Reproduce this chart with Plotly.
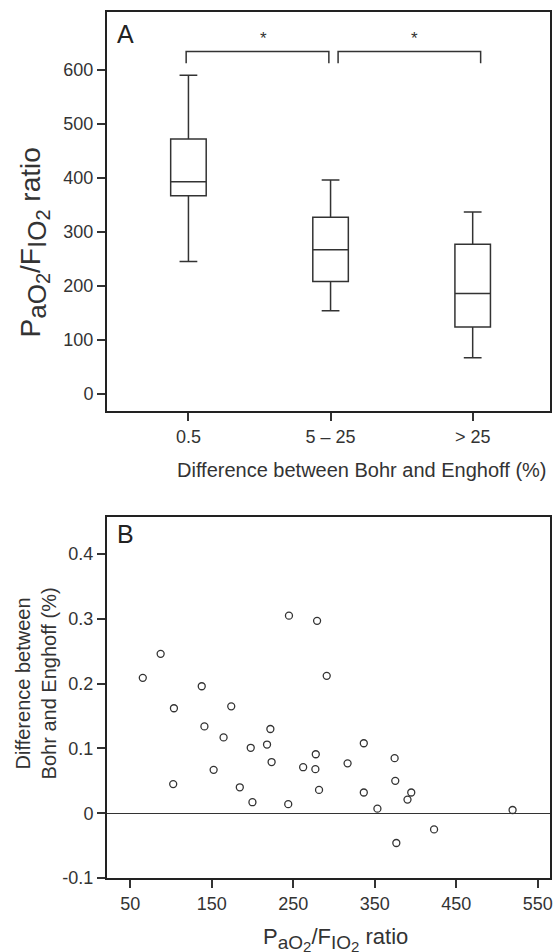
import plotly.graph_objects as go

# ---------- Panel A data (box statistics) ----------
groups = ["0.5", "5 – 25", "> 25"]
lower_fence = [245, 154, 67]
q1_vals = [367, 208, 124]
median_vals = [393, 267, 186]
q3_vals = [472, 327, 277]
upper_fence = [590, 396, 337]

# ---------- Panel B data (scatter) ----------
pf_ratio = [65.5, 87.4, 103.7, 102.8, 137.8, 141.1, 152.4, 164.6, 174.0, 184.5,
            197.9, 200.0, 217.9, 222.0, 223.5, 244.8, 279.3, 291.1, 262.2, 277.7,
            277.2, 281.7, 243.9, 316.7, 336.6, 336.6, 353.3, 374.4, 375.2, 390.2,
            394.8, 376.5, 422.8, 519.1]
diff_pct = [0.209, 0.246, 0.162, 0.045, 0.196, 0.134, 0.067, 0.117, 0.165, 0.040,
            0.101, 0.017, 0.106, 0.130, 0.079, 0.305, 0.297, 0.212, 0.071, 0.091,
            0.068, 0.036, 0.014, 0.077, 0.108, 0.032, 0.007, 0.085, 0.050, 0.021,
            0.032, -0.046, -0.025, 0.005]

yA_ticks = [0, 100, 200, 300, 400, 500, 600]
xB_ticks = [50, 150, 250, 350, 450, 550]
yB_ticks = [-0.1, 0, 0.1, 0.2, 0.3, 0.4]
yB_ticktext = ["-0.1", "0", "0.1", "0.2", "0.3", "0.4"]

INK = "#333333"
FONT = "Liberation Sans, Arial, sans-serif"

fig = go.Figure()

fig.add_trace(go.Box(
    x=groups, q1=q1_vals, median=median_vals, q3=q3_vals,
    lowerfence=lower_fence, upperfence=upper_fence,
    width=0.25, whiskerwidth=0.5,
    fillcolor="white", line=dict(color=INK, width=1.5),
    boxpoints=False, showlegend=False, hoverinfo="skip",
    xaxis="x", yaxis="y",
))

fig.add_trace(go.Scatter(
    x=pf_ratio, y=diff_pct, mode="markers",
    marker=dict(symbol="circle-open", size=7, color=INK, line=dict(width=1.3, color=INK)),
    showlegend=False, hoverinfo="skip",
    xaxis="x2", yaxis="y2",
))

axis_common = dict(
    showline=True, mirror=True, linewidth=2, linecolor="#222222",
    ticks="outside", ticklen=8, tickwidth=1.5, tickcolor=INK,
    showgrid=False,
    tickfont=dict(family=FONT, size=18, color=INK),
)

dom_A = [(878 - 411) / 866, 1.0]
dom_B = [0.0, (878 - 516.7) / 866]

fig.update_layout(
    width=556, height=952,
    margin=dict(l=107, r=3.5, t=12, b=74),
    paper_bgcolor="white", plot_bgcolor="white",
    font=dict(family=FONT, color=INK),
    xaxis=dict(domain=[0, 1], anchor="y", type="category",
               categoryorder="array", categoryarray=groups,
               range=[-0.573, 2.544], zeroline=False, **axis_common),
    yaxis=dict(domain=dom_A, anchor="x", range=[-31.5, 707],
               tickvals=yA_ticks, zeroline=False, **axis_common),
    xaxis2=dict(domain=[0, 1], anchor="y2", range=[21.6, 565],
                tickvals=xB_ticks, zeroline=False, **axis_common),
    yaxis2=dict(domain=dom_B, anchor="x2", range=[-0.1, 0.4577],
                tickvals=yB_ticks, ticktext=yB_ticktext,
                zeroline=True, zerolinecolor=INK, zerolinewidth=1, **axis_common),
)

# significance brackets
for (x0, x1) in [(-0.016, 0.988), (1.053, 2.056)]:
    fig.add_shape(type="path", xref="x", yref="y",
                  path=f"M {x0} 612 L {x0} 634 L {x1} 634 L {x1} 612",
                  line=dict(color=INK, width=1.5))

ann = []
for xs in [0.53, 1.59]:
    ann.append(dict(x=xs, y=658, xref="x", yref="y", text="*", showarrow=False,
                    font=dict(size=17, color=INK, family=FONT), xanchor="center", yanchor="middle"))


def px_x(p):
    return (p - 107) / 445.5


def px_y(p):
    return (878 - p) / 866


def pf_label(sub, subsub):
    return (f"P<sub><span style='font-size:{sub}px'>aO</span>"
            f"<sub><span style='font-size:{subsub}px'>2</span></sub></sub>"
            f"/F<sub><span style='font-size:{sub}px'>IO</span>"
            f"<sub><span style='font-size:{subsub}px'>2</span></sub></sub> ratio")


ann += [
    dict(x=px_x(115), y=px_y(33.5), xref="paper", yref="paper", text="A", showarrow=False,
         xanchor="left", yanchor="middle", font=dict(size=25, color="#222", family=FONT)),
    dict(x=px_x(115), y=px_y(534), xref="paper", yref="paper", text="B", showarrow=False,
         xanchor="left", yanchor="middle", font=dict(size=25, color="#222", family=FONT)),
    dict(x=px_x(34), y=px_y(242), xref="paper", yref="paper",
         text=pf_label(26, 20),
         textangle=-90, showarrow=False, xanchor="center", yanchor="middle",
         font=dict(size=28, color=INK, family=FONT)),
    dict(x=px_x(363), y=px_y(470), xref="paper", yref="paper",
         text="Difference between Bohr and Enghoff (%)", showarrow=False,
         xanchor="center", yanchor="middle", font=dict(size=20, color=INK, family=FONT)),
    dict(x=px_x(36), y=px_y(683), xref="paper", yref="paper",
         text="Difference between<br>Bohr and Enghoff (%)", textangle=-90, showarrow=False,
         xanchor="center", yanchor="middle", font=dict(size=20, color=INK, family=FONT)),
    dict(x=px_x(337), y=px_y(939), xref="paper", yref="paper",
         text=pf_label(19, 15), showarrow=False,
         xanchor="center", yanchor="middle", font=dict(size=22, color=INK, family=FONT)),
]
fig.update_layout(annotations=ann)

fig.write_html(
    "out.html",
    config={"displayModeBar": False},
    post_script=("document.body.style.margin='0';"
                 "document.body.style.overflow='hidden';"
                 "document.documentElement.style.overflow='hidden';"),
)
